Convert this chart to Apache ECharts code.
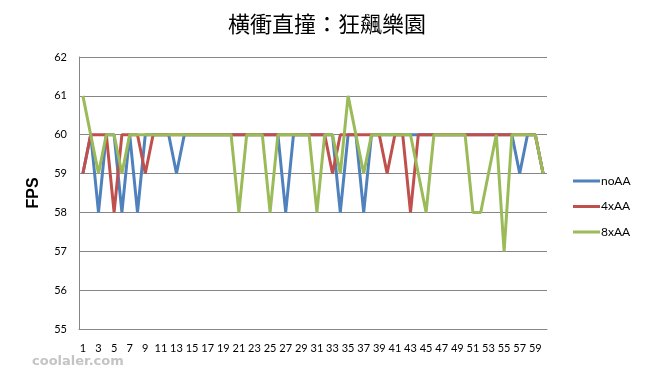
<!DOCTYPE html>
<html><head><meta charset="utf-8">
<script src="https://cdn.jsdelivr.net/npm/echarts@6/dist/echarts.min.js"></script>
<style>html,body{margin:0;padding:0;background:#fff}#c{width:648px;height:373px}</style>
</head><body><div id="c"></div>
<script>
var titleText = '横衝直撞：狂飆樂園';
var categories = [];
for (var k = 1; k <= 60; k++) categories.push(String(k));
var noAA = [59,60,58,60,60,58,60,58,60,60, 60,60,59,60,60,60,60,60,60,60, 60,60,60,60,60,60,58,60,60,60, 60,60,60,58,60,60,58,60,60,60, 60,60,60,60,60,60,60,60,60,60, 60,60,60,60,60,60,59,60,60,59];
var x4AA = [59,60,60,60,58,60,60,60,59,60, 60,60,60,60,60,60,60,60,60,60, 60,60,60,60,60,60,60,60,60,60, 60,60,59,60,60,60,60,60,60,59, 60,60,58,60,60,60,60,60,60,60, 60,60,60,60,60,60,60,60,60,59];
var x8AA = [61,60,59,60,60,59,60,60,60,60, 60,60,60,60,60,60,60,60,60,60, 58,60,60,60,58,60,60,60,60,60, 58,60,60,59,61,60,59,60,60,60, 60,60,60,59,58,60,60,60,60,60, 58,58,59,60,57,60,60,60,60,59];
var seriesNames = ['noAA','4xAA','8xAA'];
var colors = ['#4F81BD','#C0504D','#9BBB59'];

var chart = echarts.init(document.getElementById('c'));
var font = 'Lato, "Open Sans", sans-serif';
function mk(name, data, color) {
  return {name: name, type: 'line', data: data, symbol: 'none', smooth: false,
    lineStyle: {color: color, width: 3}, itemStyle: {color: color}, animation: false};
}
chart.setOption({
  animation: false,
  title: {text: titleText, left: 322, top: 8, textAlign: 'center',
    textStyle: {fontFamily: '"Noto Sans CJK TC"', fontSize: 22, fontWeight: 'normal', color: '#000'}},
  legend: {orient: 'vertical', left: 568, top: 170, itemGap: 13.5, itemWidth: 27, itemHeight: 3,
    icon: 'rect', data: seriesNames,
    textStyle: {fontFamily: font, fontSize: 12, color: '#000', padding: [0,0,0,-4]}},
  grid: {left: 79, right: 101, top: 57, bottom: 44},
  xAxis: {type: 'category', data: categories, boundaryGap: true,
    axisLine: {lineStyle: {color: '#868686'}}, axisTick: {show: false},
    axisLabel: {interval: 1, fontFamily: font, fontSize: 11, color: '#000', margin: 14}},
  yAxis: {type: 'value', min: 55, max: 62, interval: 1,
    name: 'FPS', nameLocation: 'middle', nameGap: 37, nameRotate: 90,
    nameTextStyle: {fontFamily: '"Liberation Sans", Arial, sans-serif', fontSize: 16, fontWeight: 'bold', color: '#000'},
    axisLine: {show: true, lineStyle: {color: '#868686'}}, axisTick: {show: false},
    splitLine: {lineStyle: {color: '#868686'}},
    axisLabel: {fontFamily: font, fontSize: 11, color: '#000', margin: 12}},
  graphic: [{type: 'text', left: 32, top: 355,
    style: {text: 'coolaler.com', fontFamily: '"DejaVu Sans", sans-serif', fontSize: 13, fontWeight: 'bold', fill: '#c4c4c4'}}],
  series: [mk(seriesNames[0], noAA, colors[0]), mk(seriesNames[1], x4AA, colors[1]), mk(seriesNames[2], x8AA, colors[2])]
});
</script></body></html>
